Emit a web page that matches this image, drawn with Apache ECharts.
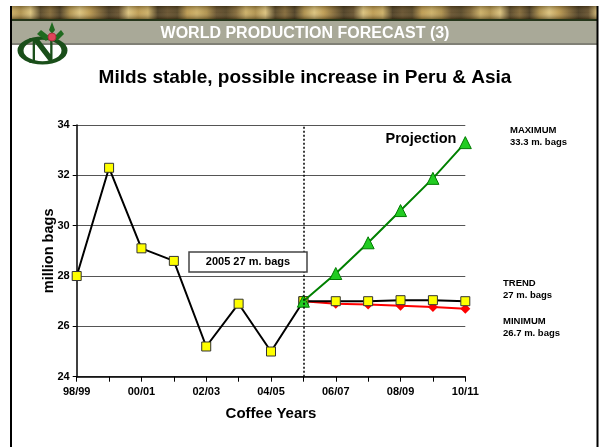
<!DOCTYPE html>
<html>
<head>
<meta charset="utf-8">
<script src="https://cdn.jsdelivr.net/npm/echarts@6/dist/echarts.min.js"></script>
<style>
html,body{margin:0;padding:0;background:#fff;}
#chart{width:600px;height:447px;}
</style>
</head>
<body>
<div id="chart"></div>
<script>
var categories = ['98/99','99/00','00/01','01/02','02/03','03/04','04/05','05/06','06/07','07/08','08/09','09/10','10/11'];
var actualValues = [28.0, 32.3, 29.1, 28.6, 25.2, 26.9, 25.0, 27.0, null, null, null, null, null];
var trendValues = [null, null, null, null, null, null, null, 27.0, 27.0, 27.0, 27.04, 27.04, 27.0];
var minimumValues = [null, null, null, null, null, null, null, 27.0, 26.9, 26.87, 26.82, 26.77, 26.7];
var maximumValues = [null, null, null, null, null, null, null, 27.0, 28.1, 29.32, 30.6, 31.88, 33.3];
var yTicks = [24, 26, 28, 30, 32, 34];

var FONT = 'Liberation Sans, Arial, sans-serif';
var chart = echarts.init(document.getElementById('chart'), null, {renderer: 'canvas'});

// texture stops for header band
var texStops = [];
var texCols = ['#c9ac62','#5a4524','#b8954a','#3e3018','#d9c07a','#7a6030','#a88a45','#4a3a1c'];
for (var i = 0; i <= 60; i++) {
  texStops.push({offset: i / 60, color: texCols[(i * 5 + (i % 3)) % texCols.length]});
}

var option = {
  animation: false,
  backgroundColor: '#ffffff',
  grid: {left: 76.7, right: 134.7, top: 125, bottom: 70.3, containLabel: false},
  xAxis: {
    type: 'category',
    data: categories,
    boundaryGap: false,
    name: 'Coffee Years',
    nameLocation: 'middle',
    nameGap: 30,
    nameTextStyle: {fontFamily: FONT, fontWeight: 'bold', fontSize: 15, color: '#000'},
    axisLine: {lineStyle: {color: '#000', width: 1.5}},
    axisTick: {show: true, interval: 0, length: 5, lineStyle: {color: '#000', width: 1}},
    axisLabel: {interval: 1, fontFamily: FONT, fontWeight: 'bold', fontSize: 11, color: '#000', margin: 10},
    splitLine: {show: false}
  },
  yAxis: {
    type: 'value',
    min: yTicks[0],
    max: yTicks[yTicks.length - 1],
    interval: 2,
    name: 'million bags',
    nameLocation: 'middle',
    nameGap: 20,
    nameMoveOverlap: false,
    nameTextStyle: {fontFamily: FONT, fontWeight: 'bold', fontSize: 14.5, color: '#000'},
    axisLine: {show: true, lineStyle: {color: '#000', width: 1.5}},
    axisTick: {show: true, length: 4, lineStyle: {color: '#000'}},
    axisLabel: {fontFamily: FONT, fontWeight: 'bold', fontSize: 11, color: '#000', margin: 7},
    splitLine: {show: true, lineStyle: {color: '#555', width: 1}}
  },
  series: [
    {
      name: 'Actual',
      type: 'line',
      data: actualValues,
      connectNulls: false,
      symbol: 'rect',
      symbolSize: 9,
      itemStyle: {color: '#ffff00', borderColor: '#333', borderWidth: 1},
      lineStyle: {color: '#000', width: 2},
      z: 3,
      markLine: {
        silent: true,
        symbol: 'none',
        label: {show: false},
        lineStyle: {color: '#000', type: [2, 2], width: 1.5},
        data: [{xAxis: '05/06'}]
      }
    },
    {
      name: 'Trend',
      type: 'line',
      data: trendValues,
      symbol: 'rect',
      symbolSize: 9,
      itemStyle: {color: '#ffff00', borderColor: '#333', borderWidth: 1},
      lineStyle: {color: '#000', width: 2},
      z: 3
    },
    {
      name: 'Minimum',
      type: 'line',
      data: minimumValues,
      symbol: 'diamond',
      symbolSize: 10,
      itemStyle: {color: '#ff0000', borderColor: '#ff0000', borderWidth: 0},
      lineStyle: {color: '#ff0000', width: 2},
      z: 2
    },
    {
      name: 'Maximum',
      type: 'line',
      data: maximumValues,
      symbol: 'triangle',
      symbolSize: 12,
      itemStyle: {color: '#22cc22', borderColor: '#007a00', borderWidth: 1},
      lineStyle: {color: '#008000', width: 2},
      z: 4
    }
  ],
  graphic: [
    // frame borders
    {type: 'line', shape: {x1: 11, y1: 6, x2: 11, y2: 447}, style: {stroke: '#000', lineWidth: 2}, z: 10},
    {type: 'line', shape: {x1: 597.5, y1: 6, x2: 597.5, y2: 447}, style: {stroke: '#000', lineWidth: 2}, z: 10},
    // header texture
    {type: 'rect', shape: {x: 11, y: 6, width: 587, height: 13},
      style: {fill: new echarts.graphic.LinearGradient(0, 0, 1, 0, texStops)}, z: 1},
    {type: 'rect', shape: {x: 11, y: 6, width: 587, height: 13},
      style: {fill: new echarts.graphic.LinearGradient(0, 0, 0, 1, [
        {offset: 0, color: 'rgba(40,30,10,0.35)'}, {offset: 0.5, color: 'rgba(255,240,200,0.1)'}, {offset: 1, color: 'rgba(40,30,10,0.45)'}])}, z: 2},
    {type: 'rect', shape: {x: 11, y: 19, width: 587, height: 2}, style: {fill: '#26361a'}, z: 2},
    {type: 'rect', shape: {x: 11, y: 21, width: 587, height: 22}, style: {fill: '#a9a998'}, z: 1},
    {type: 'rect', shape: {x: 11, y: 43, width: 587, height: 2}, style: {fill: '#808076'}, z: 1},
    {type: 'text', x: 305, y: 34, style: {text: 'WORLD PRODUCTION FORECAST (3)', fill: '#ffffff',
      font: 'bold 16px ' + FONT, textAlign: 'center', textVerticalAlign: 'middle'}, z: 3},
    // logo
    {type: 'circle', x: 42.5, y: 50.5, scaleX: 1, scaleY: 0.56, shape: {cx: 0, cy: 0, r: 22},
      style: {fill: 'none', stroke: '#1a4f1a', lineWidth: 6}, z: 5},
    {type: 'text', x: 42.5, y: 53, style: {text: 'N', fill: '#1a4f1a', font: 'bold 38px "Liberation Serif", serif',
      textAlign: 'center', textVerticalAlign: 'middle'}, z: 6},
    {type: 'polygon', shape: {points: [[50, 37], [41, 30], [37, 34], [46, 41]]}, style: {fill: '#1f6a1f'}, z: 6},
    {type: 'polygon', shape: {points: [[54, 37], [61, 30], [64, 34], [57, 41]]}, style: {fill: '#1f6a1f'}, z: 6},
    {type: 'polygon', shape: {points: [[52, 22], [49, 30], [52, 34], [55, 30]]}, style: {fill: '#1f6a1f'}, z: 6},
    {type: 'circle', shape: {cx: 52, cy: 37, r: 4}, style: {fill: '#e0445a', stroke: '#b03040', lineWidth: 1}, z: 7},
    // subtitle
    {type: 'text', x: 305, y: 78, style: {text: 'Milds stable, possible increase in Peru & Asia', fill: '#000',
      font: 'bold 19px ' + FONT, textAlign: 'center', textVerticalAlign: 'middle'}, z: 3},
    // annotation box
    {type: 'rect', shape: {x: 189, y: 252, width: 118, height: 20},
      style: {fill: '#fff', stroke: '#444', lineWidth: 1.5}, z: 20},
    {type: 'text', x: 248, y: 262, style: {text: '2005 27 m. bags', fill: '#000', font: 'bold 11px ' + FONT,
      textAlign: 'center', textVerticalAlign: 'middle'}, z: 21},
    {type: 'text', x: 421, y: 139, style: {text: 'Projection', fill: '#000', font: 'bold 14.5px ' + FONT,
      textAlign: 'center', textVerticalAlign: 'middle'}, z: 21},
    // right side labels
    {type: 'text', x: 510, y: 130, style: {text: 'MAXIMUM', fill: '#000', font: 'bold 9.5px ' + FONT, textVerticalAlign: 'middle'}, z: 21},
    {type: 'text', x: 510, y: 142.5, style: {text: '33.3 m. bags', fill: '#000', font: 'bold 9.5px ' + FONT, textVerticalAlign: 'middle'}, z: 21},
    {type: 'text', x: 503, y: 283.5, style: {text: 'TREND', fill: '#000', font: 'bold 9.5px ' + FONT, textVerticalAlign: 'middle'}, z: 21},
    {type: 'text', x: 503, y: 295.5, style: {text: '27 m. bags', fill: '#000', font: 'bold 9.5px ' + FONT, textVerticalAlign: 'middle'}, z: 21},
    {type: 'text', x: 503, y: 321.5, style: {text: 'MINIMUM', fill: '#000', font: 'bold 9.5px ' + FONT, textVerticalAlign: 'middle'}, z: 21},
    {type: 'text', x: 503, y: 333.5, style: {text: '26.7 m. bags', fill: '#000', font: 'bold 9.5px ' + FONT, textVerticalAlign: 'middle'}, z: 21}
  ]
};
chart.setOption(option);
</script>
</body>
</html>
